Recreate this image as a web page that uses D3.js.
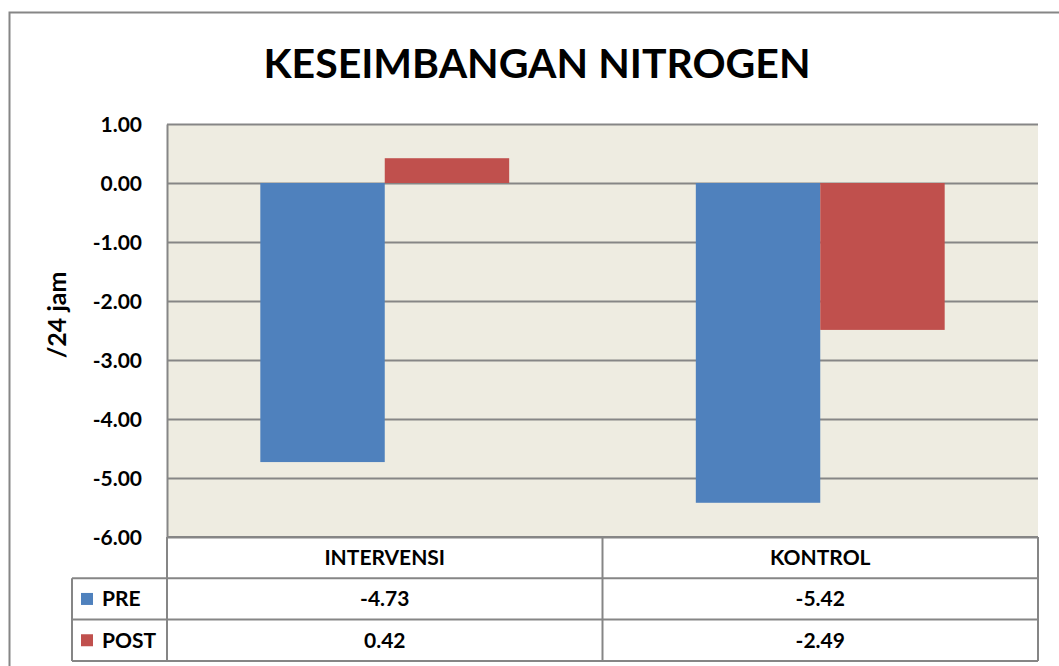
<!DOCTYPE html>
<html>
<head>
<meta charset="utf-8">
<script src="https://cdnjs.cloudflare.com/ajax/libs/d3/7.8.5/d3.min.js"></script>
<style>
  body { margin: 0; background: #fff; }
  text { font-family: Lato, "Open Sans", sans-serif; font-weight: bold; fill: #000; }
</style>
</head>
<body>
<div id="chart"></div>
<script>
// data
let categories = ["INTERVENSI", "KONTROL"];
let seriesNames = ["PRE", "POST"];
let preValues = [-4.73, -5.42];
let postValues = [0.42, -2.49];
let yTicks = [1, 0, -1, -2, -3, -4, -5, -6];
let colours = ["#4F81BD", "#C0504D"];

let series = [preValues, postValues];

// plain hyphen for negatives, like the original
let locale = d3.formatLocale({ decimal: ".", thousands: ",", grouping: [3], currency: ["", ""], minus: "-" });
let fmt = locale.format(".2f");

let W = 1059, H = 666;
let margin = { top: 124, left: 167, right: 21, bottom: 129 };
let width = W - margin.left - margin.right;   // 871
let height = H - margin.top - margin.bottom;  // 413

let svg = d3.select("#chart").append("svg")
    .attr("width", W)
    .attr("height", H);

// outer chart border (cut off on right/bottom)
svg.append("rect")
    .attr("x", 9.5).attr("y", 12.5)
    .attr("width", 1100).attr("height", 700)
    .attr("fill", "#fff")
    .attr("stroke", "#868686")
    .attr("stroke-width", 2);

// title
svg.append("text")
    .attr("x", 537).attr("y", 78)
    .attr("text-anchor", "middle")
    .style("font-size", "41px")
    .text("KESEIMBANGAN NITROGEN");

let y = d3.scaleLinear().domain([-6, 1]).range([height, 0]);
let x0 = d3.scaleBand().domain(categories).range([0, width]);
let x1 = d3.scaleBand().domain(seriesNames).range([0, x0.bandwidth()]).paddingInner(0).paddingOuter(0.75);

let g = svg.append("g")
    .attr("transform", "translate(" + margin.left + "," + margin.top + ")");

// plot background
g.append("rect")
    .attr("width", width).attr("height", height)
    .attr("fill", "#EEECE1");

// gridlines
g.selectAll(".grid")
    .data(yTicks)
    .enter().append("line")
    .attr("x1", 0).attr("x2", width)
    .attr("y1", function (d) { return Math.round(y(d)) + 0.5; })
    .attr("y2", function (d) { return Math.round(y(d)) + 0.5; })
    .attr("stroke", "#868686")
    .attr("stroke-width", 2);

// bars
seriesNames.forEach(function (s, si) {
    g.selectAll(".bar-" + s)
        .data(series[si])
        .enter().append("rect")
        .attr("x", function (d, i) { return x0(categories[i]) + x1(s); })
        .attr("width", x1.bandwidth())
        .attr("y", function (d) { return y(Math.max(0, d)); })
        .attr("height", function (d) { return Math.abs(y(d) - y(0)); })
        .attr("fill", colours[si]);
});

// y axis
let yAxis = g.append("g")
    .call(d3.axisLeft(y).tickValues(yTicks).tickSize(0).tickPadding(25).tickFormat(fmt));
yAxis.select(".domain").attr("stroke", "#868686").attr("stroke-width", 2);
yAxis.selectAll("text")
    .style("font-size", "21px")
    .style("font-family", "Lato, sans-serif")
    .attr("dy", "0.35em");

// y label
svg.append("text")
    .attr("transform", "translate(66,315) rotate(-90)")
    .attr("text-anchor", "middle")
    .style("font-size", "25px")
    .text("/24 jam");

// data table
let rowH = 41.3;
let tableTop = margin.top + height;
let legendLeft = 72;
let t = svg.append("g").attr("transform", "translate(0," + tableTop + ")");
let lineCol = "#868686";

function hline(x1, x2, yy) {
    t.append("line").attr("x1", x1).attr("x2", x2).attr("y1", yy).attr("y2", yy)
        .attr("stroke", lineCol).attr("stroke-width", 2);
}
function vline(xx, y1, y2) {
    t.append("line").attr("x1", xx).attr("x2", xx).attr("y1", y1).attr("y2", y2)
        .attr("stroke", lineCol).attr("stroke-width", 2);
}

hline(margin.left, margin.left + width, 0);
hline(legendLeft, margin.left + width, rowH);
hline(legendLeft, margin.left + width, rowH * 2);
hline(legendLeft, margin.left + width, rowH * 3);
vline(legendLeft, rowH, rowH * 3);
vline(margin.left, 0, rowH * 3);
categories.forEach(function (c) {
    vline(margin.left + x0(c) + x0.bandwidth(), 0, rowH * 3);
});

// header
t.selectAll(".cat")
    .data(categories)
    .enter().append("text")
    .attr("x", function (d) { return margin.left + x0(d) + x0.bandwidth() / 2; })
    .attr("y", rowH / 2)
    .attr("dy", "0.35em")
    .attr("text-anchor", "middle")
    .style("font-size", "21px")
    .text(function (d) { return d; });

// rows
seriesNames.forEach(function (s, si) {
    let cy = rowH * (si + 1) + rowH / 2;
    t.append("rect")
        .attr("x", 81).attr("y", cy - 6)
        .attr("width", 12).attr("height", 12)
        .attr("fill", colours[si]);
    t.append("text")
        .attr("x", 102).attr("y", cy)
        .attr("dy", "0.35em")
        .style("font-size", "21px")
        .text(s);
    t.selectAll(".val-" + s)
        .data(series[si])
        .enter().append("text")
        .attr("x", function (d, i) { return margin.left + x0(categories[i]) + x0.bandwidth() / 2; })
        .attr("y", cy)
        .attr("dy", "0.35em")
        .attr("text-anchor", "middle")
        .style("font-size", "21px")
        .text(function (d) { return fmt(d); });
});
</script>
</body>
</html>
